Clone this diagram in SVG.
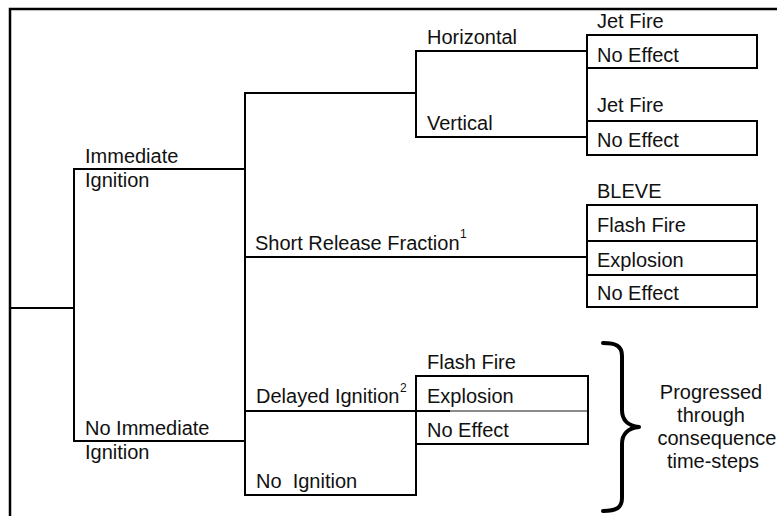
<svg xmlns="http://www.w3.org/2000/svg" width="777" height="516" viewBox="0 0 777 516">
<style>
.ln{fill:none;stroke:#000;stroke-width:2;stroke-linecap:square}
.fr{fill:none;stroke:#000;stroke-width:2.5}
.bx{fill:#fff;stroke:#000;stroke-width:2}
.dv{fill:none;stroke:#000;stroke-width:2}
.gr{fill:none;stroke:#8a8a8a;stroke-width:2}
.br{fill:none;stroke:#000;stroke-width:4;stroke-linecap:round;stroke-linejoin:round}
text{font-family:"Liberation Sans",Arial,Helvetica,sans-serif;font-size:20px;fill:#111}
.sup{font-size:12px}
.mid{text-anchor:middle}
</style>
<rect width="777" height="516" fill="#fff"/>
<path class="fr" d="M10,516 V9 H777"/>
<g id="connectors">
<path class="ln" d="M10,308 H74"/>
<path class="ln" d="M74,169 V441"/>
<path class="ln" d="M74,169 H245"/>
<path class="ln" d="M74,441 H245"/>
<path class="ln" d="M245,93 V495"/>
<path class="ln" d="M245,93 H416"/>
<path class="ln" d="M416,51 V137"/>
<path class="ln" d="M416,51 H587"/>
<path class="ln" d="M416,137 H587"/>
<path class="ln" d="M245,257 H587"/>
<path class="ln" d="M245,411 H416"/>
<path class="ln" d="M416,376 V495"/>
<path class="ln" d="M245,495 H416"/>
<path class="ln" d="M587,68 V121"/>
</g>
<g id="immediate-ignition"><text x="85" y="163">Immediate</text><text x="85" y="187">Ignition</text></g>
<g id="no-immediate-ignition"><text x="85" y="435">No Immediate</text><text x="85" y="459">Ignition</text></g>
<g id="horizontal"><text x="427" y="44">Horizontal</text></g>
<g id="vertical"><text x="427" y="130">Vertical</text></g>
<g id="short-release"><text x="255" y="250">Short Release Fraction</text><text class="sup" x="460" y="238">1</text></g>
<g id="delayed-ignition"><text x="256" y="403">Delayed Ignition</text><text class="sup" x="400" y="392">2</text></g>
<g id="no-ignition"><text x="256" y="488" xml:space="preserve">No  Ignition</text></g>
<g id="outcome-horizontal">
<text x="597" y="28">Jet Fire</text>
<rect class="bx" x="587" y="35" width="170" height="33"/>
<text x="597" y="62">No Effect</text>
</g>
<g id="outcome-vertical">
<text x="597" y="112">Jet Fire</text>
<rect class="bx" x="587" y="121" width="170" height="34"/>
<text x="597" y="147">No Effect</text>
</g>
<g id="outcome-short-release">
<text x="597" y="198">BLEVE</text>
<rect class="bx" x="587" y="205" width="170" height="102"/>
<path class="dv" d="M587,241 H757 M587,275 H757"/>
<text x="597" y="232">Flash Fire</text>
<text x="597" y="267">Explosion</text>
<text x="597" y="300">No Effect</text>
</g>
<g id="outcome-delayed">
<text x="427" y="369">Flash Fire</text>
<rect class="bx" x="416" y="376" width="172" height="68"/>
<path class="dv" d="M416,411 H450"/>
<path class="gr" d="M450,411 H587"/>
<text x="427" y="403">Explosion</text>
<text x="427" y="437">No Effect</text>
</g>
<g id="time-steps-note">
<path class="br" d="M603,343 C616,343 622,346 622,356 V410 C622,420 628,426 639,427 C628,428 622,434 622,444 V498 C622,508 616,511 603,511"/>
<text class="mid" x="711" y="399">Progressed</text>
<text class="mid" x="711" y="422">through</text>
<text class="mid" x="717" y="445">consequence</text>
<text class="mid" x="713" y="468">time-steps</text>
</g>
</svg>
